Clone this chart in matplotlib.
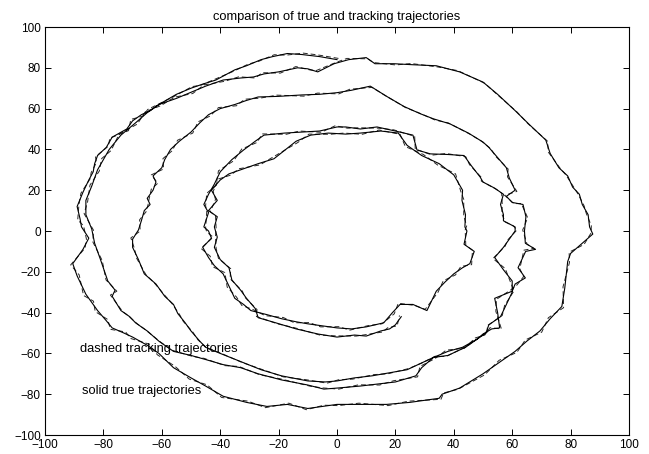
import matplotlib
matplotlib.use("Agg")
import matplotlib.pyplot as plt

plt.rcParams['font.family'] = ['Liberation Sans', 'DejaVu Sans']

# True trajectory (one target spiralling inward, counter-clockwise)
true_x = [
    0, -6, -12, -17, -22, -26, -31, -35, -41.5, -46, -50, -55, -61, -64, -67, -70, -72, -77, -79, -82,
    -83, -83.5, -85, -87, -89, -88, -87.5, -85, -87, -90.5, -89, -86, -84, -82, -79, -77, -73, -70, -65, -61,
    -56, -50, -45, -39, -31, -24, -17, -10, -5, 0, 8, 17, 25, 35, 36, 42, 50, 56, 61, 65,
    69.5, 73, 77, 78, 79, 80, 84, 87.6, 86.5, 86, 84, 83, 80.7, 79, 76, 73, 71.5, 66, 61, 55,
    50, 42, 34, 26, 19.5, 13, 10, 4,
    -1, -6.6, -10, -13.5, -20, -25, -28.6, -33, -39, -45, -50, -55, -61, -65, -69, -74, -78, -80, -82, -84,
    -86, -86, -84, -83, -81, -78.5, -76, -77, -74, -71, -69, -65, -61, -56, -50, -45, -39, -33, -27, -19,
    -10, -4.5, 0, 8, 14, 20, 27, 29, 33, 38, 43, 48, 50, 53, 55.7, 55, 54, 60, 61, 64.5,
    62, 64.6, 68, 64.5, 64.2, 64.7, 63.7, 60, 58, 61, 59, 58, 55, 52, 50, 45, 38.7, 33, 28.5, 23,
    17, 11.4, 5, 0,
    -6, -12, -20, -27, -31, -35, -40, -44, -47, -50, -54, -57, -59, -60, -63, -62, -63, -65, -64, -66,
    -67, -68, -70, -70, -68, -66, -62, -59, -56, -54.5, -52, -50, -47, -45, -40, -33, -26, -19, -10, -4,
    0, 6, 12, 18, 24, 30, 33, 38, 44, 48, 51, 52, 56, 58, 60, 60, 57, 54, 57, 59,
    61, 61, 57, 57, 56, 57, 54, 50, 49, 46, 43.5, 38, 32, 27.4, 26,
    20, 13.7, 8, 3, 0, -6, -12.3, -18, -25, -28, -32, -36, -40, -42, -44, -45.6, -44, -45.6, -44, -43,
    -46, -44, -42, -39, -37, -35, -32, -29.5, -24, -19, -14, -10, -5, 0, 5, 10, 16, 19, 21.6, 26,
    30.8, 34, 37, 40, 43, 45.5, 47, 43.5, 44.5, 43.8, 44, 42.8, 43, 40, 35, 29, 24, 21,
    15, 8, 3, -3, -9, -14, -21.6, -27, -33, -37, -40, -43, -41, -44, -41, -42, -41, -42, -40, -37,
    -36, -33, -31, -28, -27, -21, -14, -6.5, 0, 6, 10, 15, 18, 20, 22,
]
true_y = [
    84, 85.5, 86.5, 87, 85.5, 84, 81, 79, 74, 72, 70, 67, 62, 59, 57, 54, 50, 46, 41, 37,
    33, 29, 25, 19, 12, 6, 2, -3.5, -9, -16, -22, -31, -35, -39, -44, -47.5, -50, -52, -56, -60,
    -67, -72, -76, -81, -84, -86, -85, -87, -86, -85, -85, -85, -84, -82, -80, -77, -70, -64, -59, -54,
    -49, -43, -37, -28, -15, -11, -6, -1.5, 2, 8, 13, 18, 21.5, 27, 31, 38, 44.6, 52, 59, 67,
    73, 78, 81, 81.5, 82, 82, 85, 84,
    82, 78, 79.5, 80, 78, 77, 75.5, 75, 74, 71, 68, 65, 62, 58, 53, 47, 40, 35, 30, 22,
    15, 8, 1, -6, -14, -24.5, -29, -32, -39, -42, -45, -49, -54, -59, -61, -63, -65.5, -67, -70, -73,
    -75.5, -77.5, -77, -76, -75, -74, -71, -67, -62, -59, -57, -53, -50.5, -48, -47.5, -40, -33, -29.5, -26, -23,
    -18, -10, -9, -6, 0, 7, 13, 14, 17, 20, 26, 31, 36, 41, 43.6, 48, 52.5, 55, 57.5, 61,
    66, 71, 69, 67.8,
    67, 66.7, 66, 65.7, 64, 62, 60, 57, 53, 48.5, 44, 40, 35, 31, 27, 24, 20, 16, 13, 10,
    5, 0.5, -4, -8, -14, -21, -26, -32, -36, -40.5, -45, -49, -54, -57, -60, -64, -68, -71, -73.5, -74,
    -73.5, -72, -71, -69.5, -68, -64, -62, -61, -57, -53, -50, -46, -42, -36, -30, -24.5, -19, -13, -8, -4,
    0, 2, 5, 8, 13, 18, 21, 24, 26.5, 32, 37, 37.5, 37.8, 39.7, 47,
    49, 51, 50, 51, 51, 49, 48.5, 48, 47, 44, 39.7, 35, 29, 23, 18, 13, 9, 2, 0, -3.5,
    -8, -13, -17, -21, -27, -33, -36, -39, -41, -43, -44.5, -45.5, -46.5, -47.5, -48, -47, -45, -40, -36, -36,
    -39, -29.5, -25, -21, -18, -16, -10, -6.5, 0, 2, 8, 15, 20, 27.5, 33, 37, 42, 48,
    49, 48, 47.5, 48, 47, 44, 35.4, 33, 30, 28, 25, 20, 15, 10, 7, 2, -3, -8, -14, -18,
    -24, -29, -33, -38, -42.5, -45, -48, -50.5, -52, -51, -51.5, -49, -48, -46, -42,
]

# Tracking (estimated) trajectory
track_x = [
    0.5, -6.5, -11.6, -17.4, -21.5, -26.6, -30.4, -35.6, -41, -46.7, -49.6, -55.5, -60.4, -64.8, -66.5, -70.6, -71.4, -77.8, -78.3, -82.7,
    -82.4, -84.2, -84.5, -87.7, -88.4, -88.8, -86.8, -85.8, -86.3, -91.2, -88.3, -86.8, -83.4, -82.8, -78.5, -77.6, -72.4, -70.6, -64.5, -61.5,
    -55.5, -50.6, -44.5, -39.5, -30.5, -24.5, -16.5, -10.5, -4.5, 0.5, 7.5, 17.5, 24.5, 35.6, 36.5, 41.4, 50.6, 55.5, 61.6, 64.5,
    70.1, 72.4, 77.6, 77.4, 79.6, 79.5, 84.6, 87, 87.1, 85.4, 84.6, 82.4, 81.3, 78.4, 76.6, 72.4, 72.1, 65.4, 61.6, 54.4,
    50.6, 41.4, 34.6, 25.4, 20.1, 12.4, 10.6, 3.4,
    -0.4, -7.2, -9.4, -14.1, -19.4, -25.6, -28, -33.6, -38.4, -45.6, -49.4, -55.6, -60.4, -65.6, -68.4, -74.6, -77.4, -80.6, -81.4, -84.6,
    -85.4, -86.6, -83.4, -83.6, -80.4, -79.1, -75.4, -77.6, -73.4, -71.6, -68.4, -65.6, -60.4, -56.6, -49.4, -45.6, -38.4, -33.6, -26.4, -19.6,
    -9.4, -5.1, 0.6, 7.4, 14.6, 19.4, 27.6, 28.4, 33.6, 37.4, 43.6, 47.4, 50.6, 52.4, 56.3, 54.4, 54.6, 59.4, 61.6, 63.9,
    62.6, 64, 67.4, 65.1, 63.6, 65.3, 63.1, 60.6, 57.4, 61.6, 58.4, 58.6, 54.4, 52.6, 49.4, 45.6, 38.1, 33.6, 27.9, 23.6,
    16.4, 12, 4.4, 0.6,
    -6.6, -11.4, -20.6, -26.4, -31.6, -34.4, -40.6, -43.4, -47.6, -49.4, -54.6, -56.4, -59.6, -59.4, -63.6, -61.4, -63.6, -64.4, -64.6, -65.4,
    -67.6, -67.4, -70.6, -69.4, -68.6, -65.4, -62.6, -58.4, -56.6, -53.9, -52.6, -49.4, -47.6, -44.4, -40.6, -32.4, -26.6, -18.4, -10.6, -3.4,
    0.6, 5.4, 12.6, 17.4, 24.6, 29.4, 33.6, 37.4, 44.6, 47.4, 51.6, 51.4, 56.6, 57.4, 60.6, 59.4, 57.6, 53.4, 57.6, 58.4,
    61.6, 60.4, 57.6, 56.4, 56.6, 56.4, 54.6, 49.4, 49.6, 45.4, 44.1, 37.4, 32.6, 26.8, 26.6,
    19.4, 14.3, 7.4, 3.6, -0.6, -5.4, -12.9, -17.4, -25.6, -27.4, -32.6, -35.4, -40.6, -41.4, -44.6, -45, -44.6, -45, -44.6, -42.4,
    -46.6, -43.4, -42.6, -38.4, -37.6, -34.4, -32.6, -28.9, -24.6, -18.4, -14.6, -9.4, -5.6, 0.6, 4.4, 10.6, 15.4, 19.6, 21, 26.6,
    30.2, 34.6, 36.4, 40.6, 42.4, 46.1, 46.4, 44.1, 43.9, 44.4, 43.4, 43.4, 42.4, 40.6, 34.4, 29.6, 23.4, 21.6,
    14.4, 8.6, 2.4, -2.4, -9.6, -13.4, -22.2, -26.4, -33.6, -36.4, -40.6, -42.4, -41.6, -43.4, -41.6, -41.4, -41.6, -41.4, -40.6, -36.4,
    -36.6, -32.4, -31.6, -27.4, -27.6, -20.4, -14.6, -5.9, -0.6, 6.6, 9.4, 15.6, 17.4, 20.6, 21.4,
]
track_y = [
    84.6, 86.3, 87.2, 86.2, 86.4, 83.3, 81.8, 78.2, 74.9, 71.4, 70.8, 66.2, 62.7, 59.6, 56.3, 54.7, 49.2, 45.5, 41.6, 36.4,
    33.5, 28.6, 25.7, 18.5, 12.6, 5.4, 2.6, -4, -8.4, -16.6, -21.5, -31.6, -34.4, -39.5, -43.4, -48.2, -49.5, -52.7, -55.4, -60.7,
    -66.3, -72.6, -75.4, -81.6, -83.4, -86.6, -84.4, -87.6, -85.4, -85.6, -84.4, -85.6, -83.4, -82.5, -79.4, -77.6, -70.5, -63.4, -59.5, -53.4,
    -49.6, -42.5, -37.6, -27.4, -15.5, -10.4, -6.6, -1, 2.6, 8.5, 12.4, 18.5, 21, 27.5, 30.4, 38.6, 44, 52.6, 58.4, 67.5,
    72.4, 78.6, 80.4, 82.1, 81.4, 82.6, 84.4, 84.6,
    82.6, 78.6, 79, 80.6, 77.4, 77.6, 75, 75.6, 73.4, 71.6, 67.4, 65.6, 61.4, 58.5, 52.4, 47.5, 39.4, 35.5, 29.4, 22.5,
    14.4, 8.5, 0.4, -5.4, -14.5, -24, -29.5, -31.4, -39.5, -41.4, -45.5, -48.4, -54.5, -58.4, -61.5, -62.4, -66, -66.4, -70.5, -72.4,
    -76, -76.9, -77.5, -75.4, -75.5, -73.4, -71.5, -66.4, -62.5, -58.4, -57.5, -52.4, -51, -47.4, -48, -39.4, -33.5, -29, -26.5, -22.4,
    -18.5, -9.4, -8.5, -6.5, 0.5, 6.5, 13.5, 13.4, 17.5, 19.4, 26.5, 30.4, 36.5, 40.4, 44.1, 47.4, 53, 54.4, 58, 60.4,
    66.5, 70.4, 69.5, 67.2,
    67.6, 66.1, 66.6, 65.1, 64.6, 61.4, 60.5, 56.4, 53.5, 48, 44.5, 39.4, 35.5, 30.4, 27.5, 23.4, 20.5, 15.4, 13.5, 9.4,
    5.5, 0, -3.4, -8.5, -13.4, -21.5, -25.4, -32.5, -35.4, -41, -44.4, -49.5, -53.4, -57.5, -59.4, -64.5, -67.4, -71.5, -72.9, -74.6,
    -72.9, -72.6, -70.4, -70, -67.4, -64.5, -61.4, -61.5, -56.4, -53.5, -49.4, -46.5, -41.4, -36.5, -29.4, -25, -18.4, -13.5, -7.4, -4.5,
    0.5, 2.5, 4.4, 8.5, 12.4, 18.5, 20.4, 24.5, 26, 32.5, 36.4, 38, 37.2, 40.2, 46.4,
    49.6, 50.4, 50.6, 50.4, 51.6, 48.4, 49, 47.4, 47.6, 43.4, 40.2, 34.4, 29.5, 22.4, 18.5, 12.4, 9.5, 1.4, -0.5, -3,
    -8.5, -12.4, -17.5, -20.4, -27.5, -32.4, -36.5, -38.4, -41.5, -42.4, -45, -44.9, -47, -46.9, -48.6, -46.4, -45.5, -40.6, -35.4, -36.5,
    -38.4, -30, -24.4, -21.5, -17.4, -16.5, -9.4, -7, 0.5, 2.5, 7.4, 15.5, 19.4, 28, 32.4, 37.5, 41.4, 47.4,
    49.5, 47.4, 48, 47.4, 47.5, 43.4, 36, 32.4, 30.5, 27.4, 25.5, 19.4, 15.5, 9.4, 7.5, 1.4, -2.5, -8.5, -13.4, -18.5,
    -23.4, -29.5, -32.4, -38.5, -41.9, -45.5, -47.4, -51, -51.4, -51.5, -50.9, -49.5, -47.4, -46.5, -41.4,
]

title_text = "comparison of true and tracking trajectories"
label_dashed = "dashed tracking trajectories"
label_solid = "solid true trajectories"
ticks = [-100, -80, -60, -40, -20, 0, 20, 40, 60, 80, 100]

fig = plt.figure(figsize=(6.49, 4.54), dpi=100)
ax = fig.add_axes([45/649, 19/454, 584/649, 408/454])

ax.plot(track_x, track_y, color='0.15', lw=0.7, linestyle=(0, (5, 3)))
ax.plot(true_x, true_y, color='black', lw=0.8)

ax.set_xlim(-100, 100)
ax.set_ylim(-100, 100)
ax.set_xticks(ticks)
ax.set_yticks(ticks)
ax.tick_params(direction='in', top=True, right=True, length=4, width=0.7,
               labelsize=8.5, pad=3)
for s in ax.spines.values():
    s.set_linewidth(0.8)

ax.text(-88, -58, label_dashed, fontsize=9.3, va='center', ha='left')
ax.text(-87.5, -78.5, label_solid, fontsize=9.3, va='center', ha='left')
ax.set_title(title_text, fontsize=9.3, pad=5)

fig.savefig("out.png", dpi=100)
